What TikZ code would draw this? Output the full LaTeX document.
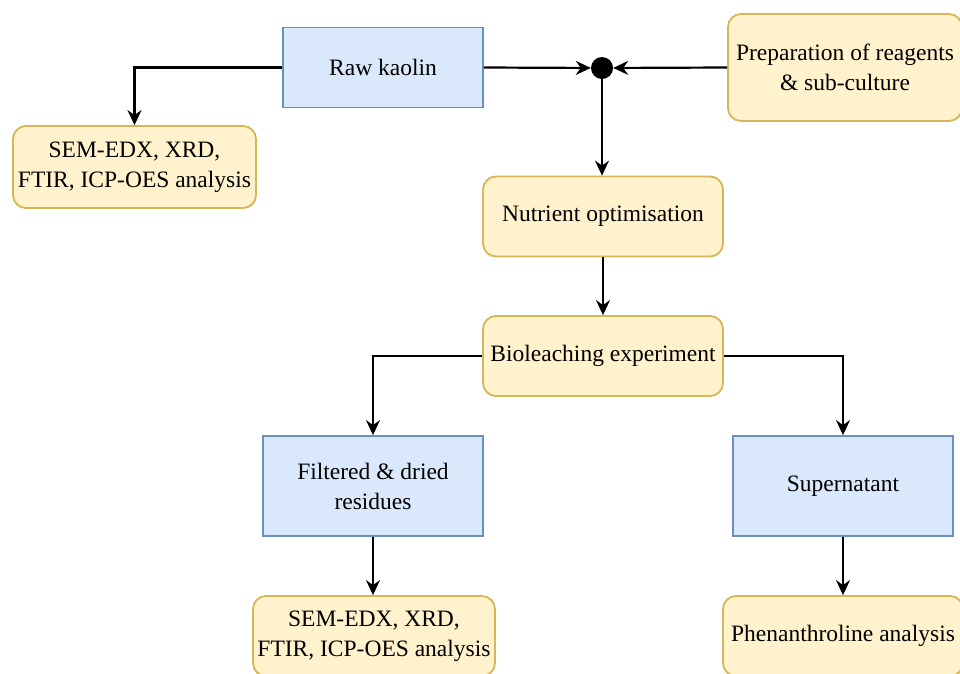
\documentclass[tikz,border=0pt]{standalone}
\usepackage{fontspec}
\setmainfont{Liberation Serif}
\newfontfamily\tnr{Liberation Serif}
\usetikzlibrary{arrows.meta}
\definecolor{bfill}{HTML}{DAE8FC}
\definecolor{bstroke}{HTML}{6C8EBF}
\definecolor{yfill}{HTML}{FFF2CC}
\definecolor{ystroke}{HTML}{D6B656}
\begin{document}
\begin{tikzpicture}[x=1pt,y=-1pt,
  every node/.style={font=\tnr\fontsize{23.5}{30}\selectfont, align=center, inner sep=0pt},
  bluebox/.style={draw=bstroke, fill=bfill, line width=1.8pt},
  yelbox/.style={draw=ystroke, fill=yfill, line width=1.8pt, rounded corners=13pt},
  arr/.style={draw=black, line width=2.2pt, -{Stealth[length=15pt,width=14pt,inset=5pt]}}]
\useasboundingbox (0,0) rectangle (960,673);
\clip (0,0) rectangle (960,673);
\fill[white] (0,0) rectangle (960,673);

\node[bluebox, minimum width=200pt, minimum height=80pt] (raw) at (383,67.5) {Raw kaolin};
\node[yelbox, minimum width=234pt, minimum height=107pt] (prep) at (845,67.5) {Preparation of reagents\\\& sub-culture};
\node[circle, fill=black, minimum size=22pt] (dot) at (602,68) {};
\node[yelbox, minimum width=243pt, minimum height=82pt] (sem1) at (134.5,167) {SEM-EDX, XRD,\\FTIR, ICP-OES analysis};
\node[yelbox, minimum width=240pt, minimum height=80pt] (nut) at (603,216.5) {Nutrient optimisation};
\node[yelbox, minimum width=240pt, minimum height=80pt] (bio) at (603,356) {Bioleaching experiment};
\node[bluebox, minimum width=220pt, minimum height=100pt] (fil) at (373,486) {Filtered \& dried\\residues};
\node[bluebox, minimum width=220pt, minimum height=100pt] (sup) at (843,486) {Supernatant};
\node[yelbox, minimum width=242pt, minimum height=80pt] (sem2) at (374,636) {SEM-EDX, XRD,\\FTIR, ICP-OES analysis};
\node[yelbox, minimum width=240pt, minimum height=80pt] (phen) at (843,636) {Phenanthroline analysis};

\draw[arr] (raw.west) -| (sem1.north);
\draw[arr] (raw.east) -- (dot);
\draw[arr] (prep.west) -- (dot);
\draw[arr] (dot) -- (dot |- nut.north);
\draw[arr] (nut) -- (bio);
\draw[arr] (bio.west) -| (fil.north);
\draw[arr] (bio.east) -| (sup.north);
\draw[arr] (fil.south) -- (fil.south |- sem2.north);
\draw[arr] (sup) -- (phen);
\end{tikzpicture}
\end{document}
